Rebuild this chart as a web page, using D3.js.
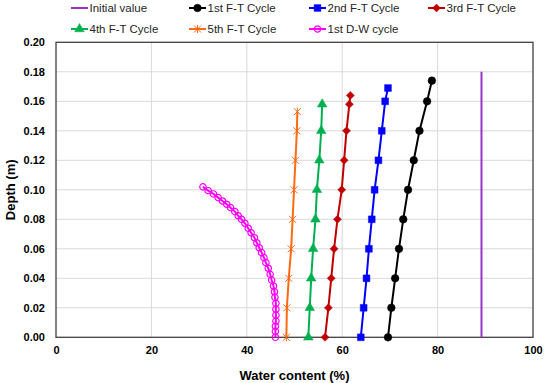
<!DOCTYPE html>
<html>
<head>
<meta charset="utf-8">
<script src="https://cdn.jsdelivr.net/npm/d3@7"></script>
<style>
  body { margin: 0; background: #fff; }
  svg { display: block; font-family: "Liberation Sans", Arial, sans-serif; }
</style>
</head>
<body>
<div id="chart"></div>
<script>
// depth levels (m) and water content (%) for each curve
var initX = [89.2, 89.2];
var initY = [0, 0.18];

var ft1X = [69.6, 70.3, 71.1, 71.9, 72.8, 73.8, 75.0, 76.2, 77.8, 78.8];
var ft1Y = [0, 0.02, 0.04, 0.06, 0.08, 0.10, 0.12, 0.14, 0.16, 0.174];

var ft2X = [63.9, 64.5, 65.1, 65.6, 66.2, 66.8, 67.6, 68.3, 69.0, 69.6];
var ft2Y = [0, 0.02, 0.04, 0.06, 0.08, 0.10, 0.12, 0.14, 0.16, 0.169];

var ft3X = [56.4, 57.1, 57.7, 58.3, 59.0, 59.9, 60.4, 60.9, 61.5, 61.7];
var ft3Y = [0, 0.02, 0.04, 0.06, 0.08, 0.10, 0.12, 0.14, 0.158, 0.164];

var ft4X = [52.9, 53.2, 53.5, 53.9, 54.4, 54.7, 55.2, 55.6, 55.8];
var ft4Y = [0, 0.02, 0.04, 0.06, 0.08, 0.10, 0.12, 0.14, 0.158];

var ft5X = [48.3, 48.4, 48.8, 49.3, 49.6, 49.9, 50.2, 50.5, 50.6];
var ft5Y = [0, 0.02, 0.04, 0.06, 0.08, 0.10, 0.12, 0.14, 0.153];

var dwX = [30.8, 31.9, 33.0, 34.0, 34.9, 35.8, 36.6, 37.5, 38.2, 38.9, 39.6, 40.3, 40.9, 41.6, 42.1, 42.6,
           43.1, 43.6, 44.0, 44.5, 44.9, 45.2, 45.6, 45.8, 45.9, 46.1, 46.1, 46.1, 46.1, 46.0, 46.0, 46.0];
var dwY = [0.102, 0.0994, 0.0972, 0.0947, 0.0924, 0.0902, 0.0879, 0.0852, 0.0824, 0.080, 0.0773, 0.0739, 0.0709, 0.0675, 0.0641, 0.0607,
           0.0574, 0.054, 0.0506, 0.0468, 0.0427, 0.0388, 0.0348, 0.0309, 0.0271, 0.023, 0.019, 0.015, 0.011, 0.0075, 0.004, 0.0];

var xTicks = [0, 20, 40, 60, 80, 100];
var yTicks = [0, 0.02, 0.04, 0.06, 0.08, 0.10, 0.12, 0.14, 0.16, 0.18, 0.20];

var series = [
  { name: "Initial value",  xs: initX, ys: initY, color: "#9933CC", marker: null },
  { name: "1st F-T Cycle",  xs: ft1X, ys: ft1Y, color: "#000000", marker: "circle" },
  { name: "2nd F-T Cycle",  xs: ft2X, ys: ft2Y, color: "#0000FF", marker: "square" },
  { name: "3rd F-T Cycle",  xs: ft3X, ys: ft3Y, color: "#C00000", marker: "diamond" },
  { name: "4th F-T Cycle",  xs: ft4X, ys: ft4Y, color: "#00B050", marker: "triangle" },
  { name: "5th F-T Cycle",  xs: ft5X, ys: ft5Y, color: "#FF6A13", marker: "star" },
  { name: "1st D-W cycle",  xs: dwX,  ys: dwY,  color: "#FF00FF", marker: "open" }
];

var w = 550, h = 383;
var margin = { left: 56, right: 17, top: 42.3, bottom: 45.7 };

var svg = d3.select("#chart").append("svg")
  .attr("width", w)
  .attr("height", h);

var x = d3.scaleLinear().domain([0, 100]).range([margin.left, w - margin.right]);
var y = d3.scaleLinear().domain([0, 0.2]).range([h - margin.bottom, margin.top]);

// gridlines
svg.append("g")
  .selectAll("line.vg")
  .data(xTicks.slice(1, -1))
  .enter().append("line")
  .attr("x1", function(d) { return x(d); })
  .attr("x2", function(d) { return x(d); })
  .attr("y1", y(0)).attr("y2", y(0.2))
  .attr("stroke", "#d9d9d9").attr("stroke-width", 1);

svg.append("g")
  .selectAll("line.hg")
  .data(yTicks.slice(1, -1))
  .enter().append("line")
  .attr("x1", x(0)).attr("x2", x(100))
  .attr("y1", function(d) { return y(d); })
  .attr("y2", function(d) { return y(d); })
  .attr("stroke", "#d9d9d9").attr("stroke-width", 1);

// axes
var xAxis = svg.append("g")
  .attr("transform", "translate(0," + y(0) + ")")
  .call(d3.axisBottom(x).tickValues(xTicks).tickSize(0).tickPadding(9).tickFormat(d3.format("d")));
var yAxis = svg.append("g")
  .attr("transform", "translate(" + x(0) + ",0)")
  .call(d3.axisLeft(y).tickValues(yTicks).tickSize(0).tickPadding(11).tickFormat(d3.format(".2f")));

[xAxis, yAxis].forEach(function(a) {
  a.select(".domain").remove();
  a.selectAll("text")
    .attr("font-family", "Liberation Sans, Arial, sans-serif")
    .attr("font-size", "11px")
    .attr("font-weight", "bold")
    .attr("fill", "#000");
});

// plot border
svg.append("rect")
  .attr("x", x(0)).attr("y", y(0.2))
  .attr("width", x(100) - x(0)).attr("height", y(0) - y(0.2))
  .attr("fill", "none").attr("stroke", "#404040").attr("stroke-width", 1.3);

// axis titles
svg.append("text")
  .attr("x", (x(0) + x(100)) / 2).attr("y", 380)
  .attr("text-anchor", "middle")
  .attr("font-size", "13px").attr("font-weight", "bold")
  .text("Water content (%)");

svg.append("text")
  .attr("transform", "translate(14.5," + ((y(0) + y(0.2)) / 2) + ") rotate(-90)")
  .attr("text-anchor", "middle")
  .attr("font-size", "13px").attr("font-weight", "bold")
  .text("Depth (m)");

function markerPath(type) {
  if (type === "circle") return d3.symbol().type(d3.symbolCircle).size(46)();
  if (type === "open") return d3.symbol().type(d3.symbolCircle).size(32)();
  if (type === "square") return d3.symbol().type(d3.symbolSquare).size(46)();
  if (type === "triangle") return d3.symbol().type(d3.symbolTriangle).size(40)();
  if (type === "diamond") return "M0,-4L4,0L0,4L-4,0Z";
  if (type === "star") return "M-3.5,-3.5L3.5,3.5M-3.5,3.5L3.5,-3.5M0,-4L0,4";
  return null;
}

function drawMarker(g, type, color) {
  var p = g.append("path").attr("d", markerPath(type));
  if (type === "open") {
    p.attr("fill", "none").attr("stroke", color).attr("stroke-width", 1.2);
  } else if (type === "star") {
    p.attr("fill", "none").attr("stroke", color).attr("stroke-width", 1);
  } else {
    p.attr("fill", color).attr("stroke", color).attr("stroke-width", 0.5);
  }
}

var line = d3.line()
  .x(function(d) { return x(d[0]); })
  .y(function(d) { return y(d[1]); });

series.forEach(function(s) {
  var pts = d3.zip(s.xs, s.ys);
  var g = svg.append("g");
  g.append("path")
    .datum(pts)
    .attr("d", line)
    .attr("fill", "none")
    .attr("stroke", s.color)
    .attr("stroke-width", 2);
  if (s.marker) {
    g.selectAll("g.pt")
      .data(pts)
      .enter().append("g")
      .attr("transform", function(d) { return "translate(" + x(d[0]) + "," + y(d[1]) + ")"; })
      .each(function() { drawMarker(d3.select(this), s.marker, s.color); });
  }
});

// legend
var legX = [71, 189, 309, 428];
var legY = [8, 29];
series.forEach(function(s, i) {
  var col = i % 4, row = Math.floor(i / 4);
  var lg = svg.append("g")
    .attr("transform", "translate(" + legX[col] + "," + legY[row] + ")");
  lg.append("line")
    .attr("x1", 0).attr("x2", 17).attr("y1", 0).attr("y2", 0)
    .attr("stroke", s.color).attr("stroke-width", 2);
  if (s.marker) {
    var mg = lg.append("g").attr("transform", "translate(8.5,0)");
    drawMarker(mg, s.marker, s.color);
  }
  lg.append("text")
    .attr("x", 18.5).attr("y", 4)
    .attr("font-size", "11.5px")
    .attr("fill", "#262626")
    .text(s.name);
});
</script>
</body>
</html>
